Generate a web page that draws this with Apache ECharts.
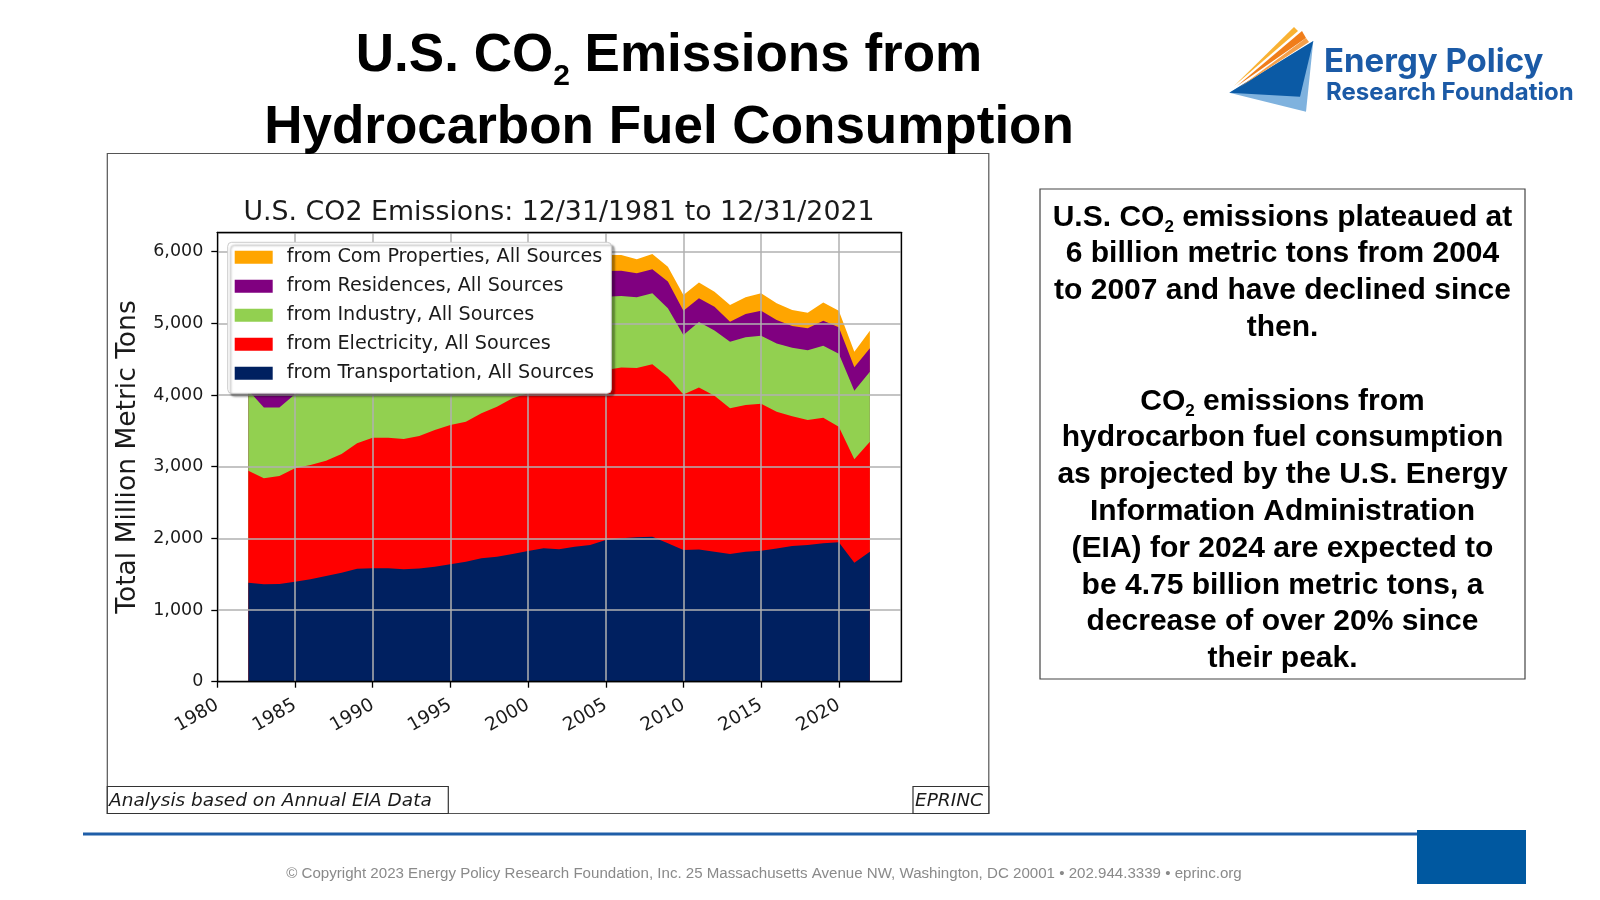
<!DOCTYPE html>
<html><head><meta charset="utf-8">
<script src="https://cdn.jsdelivr.net/npm/echarts@6/dist/echarts.min.js"></script>
<style>html,body{margin:0;padding:0;background:#fff}#c{width:1600px;height:900px}</style>
</head><body><div id="c"></div>
<script>
// Data (million metric tons CO2), year-end values 12/31/1981 .. 12/31/2021
const years = [1981,1982,1983,1984,1985,1986,1987,1988,1989,1990,1991,1992,1993,1994,1995,1996,1997,1998,1999,2000,2001,2002,2003,2004,2005,2006,2007,2008,2009,2010,2011,2012,2013,2014,2015,2016,2017,2018,2019,2020,2021];
const transportation = [1381,1359,1363,1395,1429,1475,1521,1577,1582,1582,1568,1578,1605,1638,1675,1721,1744,1782,1823,1861,1847,1884,1907,1977,2000,2014,2023,1930,1837,1846,1814,1781,1814,1828,1860,1893,1907,1930,1944,1660,1814];
const electricity = [1563,1479,1507,1582,1594,1609,1656,1749,1823,1823,1818,1850,1907,1944,1953,2024,2093,2172,2201,2300,2260,2290,2320,2373,2385,2361,2405,2326,2170,2259,2176,2033,2046,2049,1908,1812,1744,1754,1614,1442,1535];
const industry = [1121,986,954,1033,1030,1000,1010,1040,1040,1050,1030,1060,1050,1060,1070,1090,1090,1060,1050,1050,1020,1010,1000,1020,997,988,992,954,830,913,910,930,945,951,952,955,974,1002,1018,956,977];
const residences = [360,345,335,340,340,335,335,350,355,340,345,355,370,355,355,380,365,330,355,370,365,355,370,360,353,335,334,372,340,331,333,279,325,349,327,303,305,351,368,328,325];
const comProperties = [215,215,215,225,225,220,225,230,235,225,225,225,225,225,225,235,235,220,225,235,225,220,230,225,219,195,214,209,219,219,209,233,233,242,232,223,219,252,233,219,247];
const seriesNames = ['from Transportation, All Sources','from Electricity, All Sources','from Industry, All Sources','from Residences, All Sources','from Com Properties, All Sources'];
const xTicks = [1980,1985,1990,1995,2000,2005,2010,2015,2020];
const yTicks = [0,1000,2000,3000,4000,5000,6000];

const colors = ['#002060','#FF0000','#92D050','#800080','#FFA500'];
const stackData = [transportation, electricity, industry, residences, comProperties];
const FONT = 'DejaVu Sans';
const AX = '#000';
const toX = y => y + 364/365;

// cumulative stack tops (stackplot)
const cumulative = [];
let running = years.map(() => 0);
stackData.forEach(arr => { running = running.map((v, j) => v + arr[j]); cumulative.push(running); });

const chart = echarts.init(document.getElementById('c'), null, {renderer:'canvas', width:1600, height:900});

// draw from top layer down so lower layers paint over upper fills
const series = [];
for (let i = stackData.length - 1; i >= 0; i--) {
  series.push({
    name: seriesNames[i], type:'line', z:2, xAxisIndex:0, yAxisIndex:0,
    data: years.map((y, j) => [toX(y), cumulative[i][j]]),
    showSymbol:false, symbol:'none', silent:true,
    lineStyle:{width:0, opacity:0},
    areaStyle:{color:colors[i], opacity:1, origin:'start'},
    itemStyle:{color:colors[i]},
    emphasis:{disabled:true}
  });
}

const subFont = s => ({font:'bold ' + s + 'px "Liberation Sans"'});

const option = {
  animation:false,
  backgroundColor:'#fff',
  grid:{left:217.3, top:232.3, width:683.7, height:449.4, containLabel:false, outerBoundsMode:'none'},
  legend:{
    data:[...seriesNames].reverse(), orient:'vertical', left:227.7, top:242.3,
    itemWidth:38, itemHeight:13, itemGap:9, icon:'rect', selectedMode:false,
    padding:[5,9,10,7], backgroundColor:'#ffffff', borderColor:'#cccccc', borderWidth:1, borderRadius:4,
    shadowColor:'rgba(0,0,0,0.35)', shadowOffsetX:3, shadowOffsetY:3, shadowBlur:2,
    textStyle:{fontFamily:FONT, fontSize:19.2, color:'#1a1a1a', lineHeight:20, padding:[0,0,0,9]},
    z:5
  },
  xAxis:[{
    type:'value', min:1980, max:2024, interval:5, z:3,
    axisLine:{show:true, onZero:false, lineStyle:{color:AX, width:1.3}},
    axisTick:{show:true, length:6, lineStyle:{color:AX, width:1.3}},
    axisLabel:{rotate:30, margin:22, fontFamily:FONT, fontSize:18.5, color:'#1a1a1a', showMaxLabel:false,
      formatter:v => xTicks.includes(v) ? String(v) : ''},
    splitLine:{show:true, lineStyle:{color:'#b0b0b0', width:1.5}}
  },{
    type:'value', position:'top', min:1980, max:2024, z:3,
    axisLine:{show:true, onZero:false, lineStyle:{color:AX, width:1.3}},
    axisTick:{show:false}, axisLabel:{show:false}, splitLine:{show:false}
  }],
  yAxis:[{
    type:'value', min:0, max:6270, interval:1000, z:3,
    name:'Total Million Metric Tons', nameLocation:'middle', nameGap:76,
    nameTextStyle:{fontFamily:FONT, fontSize:26.5, color:'#1a1a1a'},
    axisLine:{show:true, onZero:false, lineStyle:{color:AX, width:1.3}},
    axisTick:{show:true, length:6, lineStyle:{color:AX, width:1.3}},
    axisLabel:{margin:14, fontFamily:FONT, fontSize:17.5, color:'#1a1a1a', showMaxLabel:false,
      formatter:v => yTicks.includes(v) ? v.toLocaleString('en-US') : ''},
    splitLine:{show:true, lineStyle:{color:'#b0b0b0', width:1.5}}
  },{
    type:'value', position:'right', min:0, max:6270, z:3,
    axisLine:{show:true, onZero:false, lineStyle:{color:AX, width:1.3}},
    axisTick:{show:false}, axisLabel:{show:false}, splitLine:{show:false}
  }],
  series: series,
  graphic:[
    // main title
    {type:'text', x:669, y:20, z:10, style:{
      text:'U.S. CO{sub|2} Emissions from\nHydrocarbon Fuel Consumption',
      font:'bold 53px "Liberation Sans"', fill:'#000', align:'center', verticalAlign:'top', lineHeight:72,
      rich:{sub:Object.assign(subFont(30), {lineHeight:29.6, verticalAlign:'bottom', fill:'#000'})}
    }},
    // chart frame
    {type:'rect', z:0, shape:{x:107.3, y:153.5, width:881.5, height:660}, style:{fill:'none', stroke:'#555', lineWidth:1.2}},
    // inner chart title
    {type:'text', x:559, y:213, z:10, style:{text:'U.S. CO2 Emissions: 12/31/1981 to 12/31/2021', font:'26.8px "DejaVu Sans"', fill:'#1a1a1a', align:'center', verticalAlign:'middle'}},
    // source boxes
    {type:'rect', z:1, shape:{x:107.3, y:786.5, width:341, height:27}, style:{fill:'#fff', stroke:'#333', lineWidth:1.2}},
    {type:'text', x:109, y:801, z:10, style:{text:'Analysis based on Annual EIA Data', font:'italic 18.5px "DejaVu Sans"', fill:'#1a1a1a', align:'left', verticalAlign:'middle'}},
    {type:'rect', z:1, shape:{x:913, y:786.5, width:75.8, height:27}, style:{fill:'#fff', stroke:'#333', lineWidth:1.2}},
    {type:'text', x:915, y:801, z:10, style:{text:'EPRINC', font:'italic 18.5px "DejaVu Sans"', fill:'#1a1a1a', align:'left', verticalAlign:'middle'}},
    // right text box
    {type:'rect', z:1, shape:{x:1040, y:189, width:485, height:490}, style:{fill:'#fff', stroke:'#444', lineWidth:1.2}},
    {type:'text', x:1282.5, y:199, z:10, style:{
      text:'U.S. CO{sub|2} emissions plateaued at\n6 billion metric tons from 2004\nto 2007 and have declined since\nthen.\n \nCO{sub|2} emissions from\nhydrocarbon fuel consumption\nas projected by the U.S. Energy\nInformation Administration\n(EIA) for 2024 are expected to\nbe 4.75 billion metric tons, a\ndecrease of over 20% since\ntheir peak.',
      font:'bold 30px "Liberation Sans"', fill:'#000', align:'center', verticalAlign:'top', lineHeight:36.8,
      rich:{sub:Object.assign(subFont(17), {lineHeight:17.5, verticalAlign:'bottom', fill:'#000'})}
    }},
    // logo
    {type:'polygon', z:5, shape:{points:[[1229.3,92.7],[1313.3,41],[1306,111.7]]}, style:{fill:'#7fb2de'}},
    {type:'polygon', z:6, shape:{points:[[1229.3,92.7],[1313.3,41],[1300,96.7]]}, style:{fill:'#0b5aa5'}},
    {type:'polygon', z:6, shape:{points:[[1234,86],[1294,27],[1298,31]]}, style:{fill:'#f9b233'}},
    {type:'polygon', z:6, shape:{points:[[1237,86],[1302,31],[1306,38]]}, style:{fill:'#f07d1a'}},
    {type:'polygon', z:6, shape:{points:[[1240,87],[1306,38],[1309,42]]}, style:{fill:'#f5a04a'}},
    {type:'text', x:1324, y:62, z:10, style:{text:'Energy Policy', font:'bold 33px "Inter"', fill:'#1b5aa6', align:'left', verticalAlign:'middle'}},
    {type:'text', x:1326, y:93, z:10, style:{text:'Research Foundation', font:'bold 24px "Inter"', fill:'#1b5aa6', align:'left', verticalAlign:'middle'}},
    // footer
    {type:'line', z:5, shape:{x1:83, y1:834, x2:1417, y2:834}, style:{stroke:'#1f5ea8', lineWidth:3}},
    {type:'rect', z:6, shape:{x:1417, y:830, width:109, height:54}, style:{fill:'#0058a0'}},
    {type:'text', x:764, y:874, z:10, style:{text:'\u00a9 Copyright 2023 Energy Policy Research Foundation, Inc. 25 Massachusetts Avenue NW, Washington, DC 20001 \u2022 202.944.3339 \u2022 eprinc.org', font:'15.1px "Liberation Sans"', fill:'#8a8a8a', align:'center', verticalAlign:'middle'}}
  ]
};
chart.setOption(option);
</script>
</body></html>
